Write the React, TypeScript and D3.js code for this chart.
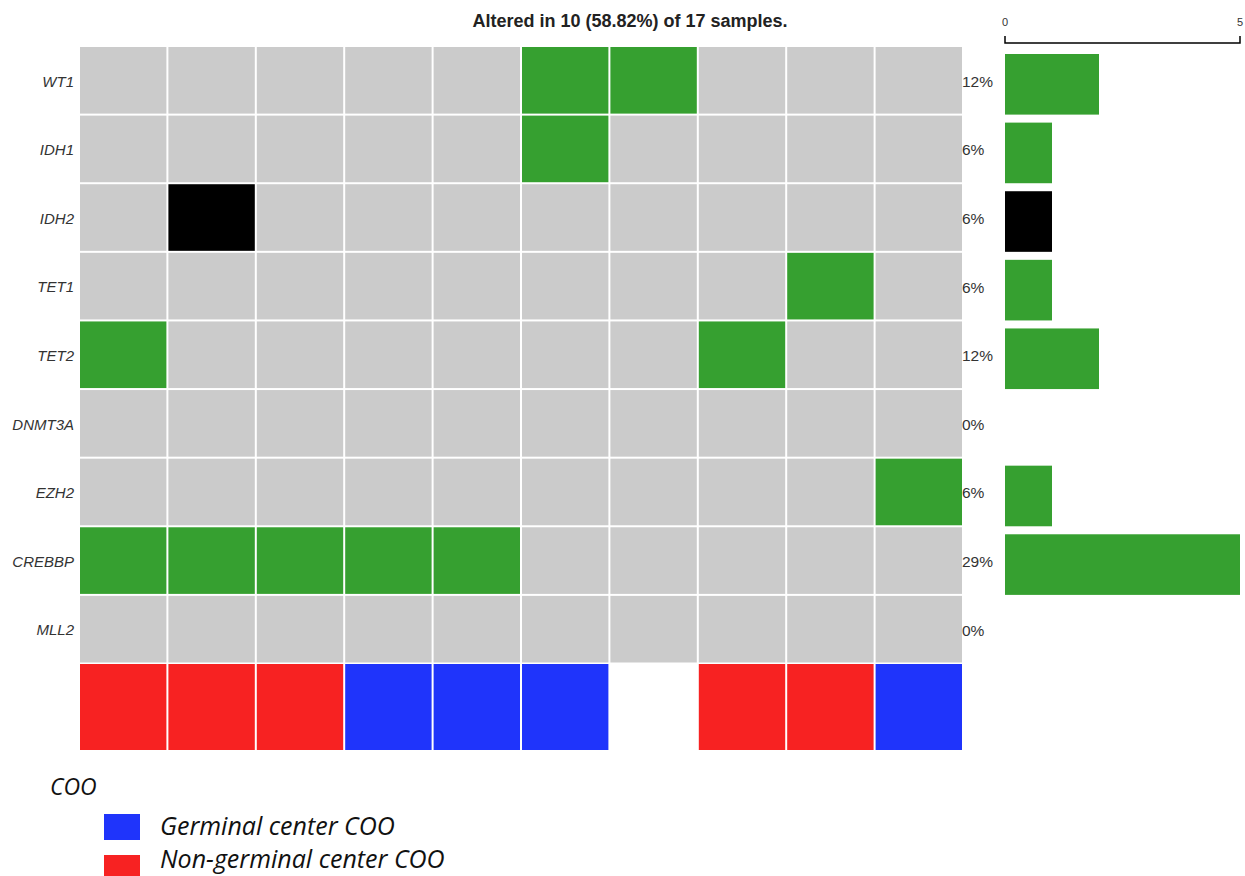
import React, { useEffect, useRef } from 'react';
import * as d3 from 'd3';

const genes = ['WT1', 'IDH1', 'IDH2', 'TET1', 'TET2', 'DNMT3A', 'EZH2', 'CREBBP', 'MLL2'];
const samples = ['S1', 'S2', 'S3', 'S4', 'S5', 'S6', 'S7', 'S8', 'S9', 'S10'];
// alteration per gene, per sample: '' none, 'mut' green, 'trunc' black
const alterations = [
  ['', '', '', '', '', 'mut', 'mut', '', '', ''],
  ['', '', '', '', '', 'mut', '', '', '', ''],
  ['', 'trunc', '', '', '', '', '', '', '', ''],
  ['', '', '', '', '', '', '', '', 'mut', ''],
  ['mut', '', '', '', '', '', '', 'mut', '', ''],
  ['', '', '', '', '', '', '', '', '', ''],
  ['', '', '', '', '', '', '', '', '', 'mut'],
  ['mut', 'mut', 'mut', 'mut', 'mut', '', '', '', '', ''],
  ['', '', '', '', '', '', '', '', '', ''],
];
const pctLabels = ['12%', '6%', '6%', '6%', '12%', '0%', '6%', '29%', '0%'];
const counts = [2, 1, 1, 1, 2, 0, 1, 5, 0];
const barType = ['mut', 'mut', 'trunc', 'mut', 'mut', 'mut', 'mut', 'mut', 'mut'];
const coo = ['NGC', 'NGC', 'NGC', 'GC', 'GC', 'GC', '', 'NGC', 'NGC', 'GC'];
const legendItems = [
  { key: 'GC', label: 'Germinal center COO' },
  { key: 'NGC', label: 'Non-germinal center COO' },
];
const title = 'Altered in 10 (58.82%) of 17 samples.';

const colors: Record<string, string> = {
  '': '#cbcbcb',
  mut: '#36a030',
  trunc: '#000000',
  GC: '#1f34fb',
  NGC: '#f72222',
};

export default function App() {
  const svgRef = useRef<SVGSVGElement>(null);

  useEffect(() => {
    const svg = d3.select(svgRef.current);
    svg.selectAll('*').remove();

    const x = d3.scaleBand<string>().domain(samples).range([80, 964]);
    const y = d3.scaleBand<string>().domain(genes).range([47, 664.5]);
    const gap = 2;
    const arial = 'Liberation Sans, Arial, sans-serif';

    // title
    svg.append('text')
      .attr('x', 630).attr('y', 27)
      .attr('text-anchor', 'middle')
      .attr('font-family', arial)
      .attr('font-weight', 'bold')
      .attr('font-size', 18)
      .attr('fill', '#222')
      .text(title);

    // cells
    const g = svg.append('g');
    genes.forEach((gene, gi) => {
      samples.forEach((s, si) => {
        g.append('rect')
          .attr('x', x(s)!)
          .attr('y', y(gene)!)
          .attr('width', x.bandwidth() - gap)
          .attr('height', y.bandwidth() - gap)
          .attr('fill', colors[alterations[gi][si]]);
      });
    });

    // gene labels
    svg.append('g').selectAll('text')
      .data(genes)
      .join('text')
      .attr('x', 74)
      .attr('y', d => y(d)! + y.bandwidth() / 2)
      .attr('dy', '0.35em')
      .attr('text-anchor', 'end')
      .attr('font-family', arial)
      .attr('font-style', 'italic')
      .attr('font-size', 15)
      .attr('fill', '#333')
      .text(d => d);

    // percent labels
    svg.append('g').selectAll('text')
      .data(genes)
      .join('text')
      .attr('x', 962)
      .attr('y', (d: string) => y(d)! + y.bandwidth() / 2)
      .attr('dy', '0.35em')
      .attr('font-family', arial)
      .attr('font-size', 15.5)
      .attr('fill', '#333')
      .text((d, i) => pctLabels[i]);

    // count bars
    const bx = d3.scaleLinear().domain([0, 5]).range([1005, 1240]);
    svg.append('g').selectAll('rect')
      .data(genes)
      .join('rect')
      .attr('x', bx(0))
      .attr('y', d => y(d)! + 7)
      .attr('width', (d, i) => bx(counts[i]) - bx(0))
      .attr('height', y.bandwidth() - 8)
      .attr('fill', (d, i) => colors[barType[i]]);

    // top axis
    const axisG = svg.append('g').attr('transform', 'translate(0,43)');
    axisG.append('path')
      .attr('d', `M${bx(0)},-7V0H${bx(5)}V-7`)
      .attr('fill', 'none')
      .attr('stroke', '#000')
      .attr('stroke-width', 1.5);
    axisG.selectAll('text')
      .data([0, 5])
      .join('text')
      .attr('x', d => bx(d))
      .attr('y', -17)
      .attr('text-anchor', 'middle')
      .attr('font-family', arial)
      .attr('font-size', 11)
      .attr('fill', '#333')
      .text(d => d);

    // COO annotation track
    svg.append('g').selectAll('rect')
      .data(samples)
      .join('rect')
      .attr('x', d => x(d)!)
      .attr('y', 664)
      .attr('width', x.bandwidth() - gap)
      .attr('height', 86)
      .attr('fill', (d, i) => coo[i] ? colors[coo[i]] : 'none');

    // legend
    const legendFont = 'Open Sans, DejaVu Sans, sans-serif';
    svg.append('text')
      .attr('x', 50).attr('y', 795)
      .attr('font-family', legendFont)
      .attr('font-style', 'italic')
      .attr('font-size', 23)
      .attr('fill', '#111')
      .text('COO');
    const lg = svg.append('g');
    legendItems.forEach((item, i) => {
      const ly = 814 + i * 41;
      lg.append('rect')
        .attr('x', 104).attr('y', ly)
        .attr('width', 36).attr('height', 26)
        .attr('fill', colors[item.key]);
      lg.append('text')
        .attr('x', 160).attr('y', ly + 21 - i * 8)
        .attr('font-family', legendFont)
        .attr('font-style', 'italic')
        .attr('font-size', 25)
        .attr('fill', '#111')
        .text(item.label);
    });
  }, []);

  return (
    <div style={{ position: 'absolute', left: 0, top: 0 }}>
      <svg ref={svgRef} width={1245} height={876} style={{ display: 'block' }}></svg>
    </div>
  );
}
